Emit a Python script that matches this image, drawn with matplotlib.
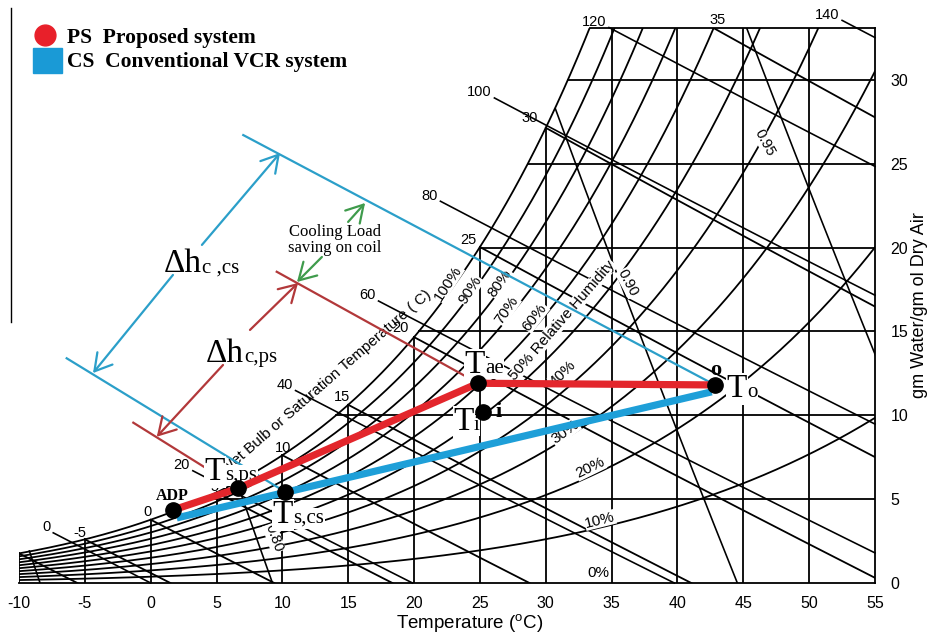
import numpy as np
import matplotlib
matplotlib.use("Agg")
import matplotlib.pyplot as plt
from matplotlib.lines import Line2D
from matplotlib.patches import Rectangle

plt.rcParams['mathtext.fontset'] = 'custom'
plt.rcParams['mathtext.rm'] = 'Liberation Sans'

SANS = 'Liberation Sans'
SERIF = 'Liberation Serif'

# ---------------- data ----------------
x_ticks = [-10, -5, 0, 5, 10, 15, 20, 25, 30, 35, 40, 45, 50, 55]
y_ticks = [0, 5, 10, 15, 20, 25, 30]
w_top = 33.1                      # top of chart (g/kg)
rh_levels = [10, 20, 30, 40, 50, 60, 70, 80, 90, 100]
wet_bulb_temps = [-10, -5, 0, 5, 10, 15, 20, 25, 30, 35]
wet_bulb_labels = ['-5', '0', '5', '10', '15', '20', '25', '30', '35']
enthalpy_levels = [0, 20, 40, 60, 80, 100, 120, 140]
enthalpy_start_T = [-7.4, 3.2, 11.0, 17.3, 22.0, 26.1, 34.8, 52.5]
volume_levels = [0.75, 0.80, 0.90, 0.95]

# process state points (T in C, humidity ratio in g/kg)
point_T = {'ADP': 1.69, 'Ts,ps': 6.65, 'Ts,cs': 10.2, 'Tae': 24.87, 'Ti': 25.25, 'To': 42.85}
point_w = {'ADP': 4.35, 'Ts,ps': 5.65, 'Ts,cs': 5.44, 'Tae': 11.91, 'Ti': 10.21, 'To': 11.81}

ps_path_T = [1.69, 6.65, 24.87, 42.85]
ps_path_w = [4.35, 5.65, 11.91, 11.81]
cs_path_T = [1.98, 10.2, 42.6]
cs_path_w = [3.88, 5.40, 11.40]

# enthalpy guide lines of the annotation
cs_upper_T = [7.03, 42.85]; cs_upper_w = [26.71, 11.81]
cs_lower_T = [-6.38, 10.2]; cs_lower_w = [13.40, 5.44]
ps_upper_T = [9.57, 24.87]; ps_upper_w = [18.56, 11.91]
ps_lower_T = [-1.32, 6.65]; ps_lower_w = [9.56, 5.65]

P_ATM = 101325.0

def pws(T):
    return 610.94 * np.exp(17.625 * T / (T + 243.04))

def w_sat(T, phi=1.0):
    p = phi * pws(T)
    return 622.0 * p / (P_ATM - p)

def w_wetbulb(T, Twb):
    ws = w_sat(Twb) / 1000.0
    return 1000.0 * ((2501 - 2.326 * Twb) * ws - 1.006 * (T - Twb)) / (2501 + 1.86 * T - 4.186 * Twb)

def w_enthalpy(T, h):
    return 1000.0 * (h - 1.006 * T) / (2501 + 1.86 * T)

def T_volume(w, v):
    return v * P_ATM / 1000.0 / (0.287042 * (1 + 1.607858 * w / 1000.0)) - 273.15

_Tg = np.linspace(-12, 60, 4000)
def T_dew(w):
    return np.interp(w, w_sat(_Tg), _Tg)

# ---------------- figure ----------------
W, H = 930, 637
fig = plt.figure(figsize=(W / 100, H / 100), dpi=100)
ax = fig.add_axes([19 / W, 54 / H, 856 / W, 33.1 * 16.77 / H])
ax.set_xlim(-10, 55)
ax.set_ylim(0, w_top)
for s in ax.spines.values():
    s.set_visible(False)

K = 'black'
LW = 1.3

# RH curves
Tc = np.linspace(-10, 55, 600)
for rh in rh_levels:
    ax.plot(Tc, w_sat(Tc, rh / 100.0), color=K, lw=LW, zorder=1)

# vertical grid / boundary
for T in x_ticks[:-1]:
    ax.plot([T, T], [0, min(w_sat(T), w_top)], color=K, lw=LW, zorder=1)
ax.plot([55, 55], [0, w_top], color=K, lw=LW, zorder=1, clip_on=False)
# horizontal grid / boundary
ax.plot([-10, 55], [0, 0], color=K, lw=LW, zorder=1, clip_on=False)
for w in y_ticks[1:]:
    ax.plot([T_dew(w), 55], [w, w], color=K, lw=LW, zorder=1)
ax.plot([T_dew(w_top), 55], [w_top, w_top], color=K, lw=LW, zorder=1, clip_on=False)

# wet bulb lines
for Twb in wet_bulb_temps:
    ws = w_sat(Twb) / 1000.0
    T_end = min(55.0, Twb + (2501 - 2.326 * Twb) * ws / 1.006)
    Tl = np.linspace(Twb, T_end, 200)
    ax.plot(Tl, w_wetbulb(Tl, Twb), color=K, lw=LW, zorder=1)

# enthalpy lines (extend outside the saturation curve to their labels)
for h, Ts in zip(enthalpy_levels, enthalpy_start_T):
    T_end = min(55.0, h / 1.006)
    Tl = np.linspace(Ts, T_end, 200)
    ax.plot(Tl, w_enthalpy(Tl, h), color=K, lw=LW * 0.9, zorder=1, clip_on=False)
    ax.annotate(str(h), (Ts, w_enthalpy(Ts, h)), xytext=(-2, 4), textcoords='offset points',
                ha='right', va='center', fontsize=10.5, family=SANS, annotation_clip=False)

# specific volume lines
wv = np.linspace(0, w_top, 400)
for v in volume_levels:
    Tv = T_volume(wv, v)
    m = wv <= w_sat(Tv) + 0.05
    ax.plot(Tv[m], wv[m], color=K, lw=LW * 0.9, zorder=1)

# wet bulb labels
wb_label_pos = [(-5.37, 2.98), (-0.28, 4.23), (4.88, 5.72), (10.05, 8.05), (14.53, 11.09),
                (18.93, 15.21), (24.09, 20.45), (28.8, 27.73), (43.08, 33.57)]
for lab, (tx, ty) in zip(wet_bulb_labels, wb_label_pos):
    ax.text(tx, ty, lab, ha='center', va='center', fontsize=10.5, family=SANS, zorder=2, clip_on=False)

# RH labels
bb = dict(facecolor='white', edgecolor='none', pad=0.3)
rh_label_specs = [('100%', 22.58, 17.89, 57), ('90%', 24.25, 17.47, 57), ('80%', 26.52, 17.89, 55),
                  ('70%', 27.05, 16.28, 55), ('60%', 29.18, 15.86, 52),
                  ('50% Relative Humidity', 31.23, 15.68, 49), ('40%', 31.31, 12.52, 44),
                  ('30%', 31.46, 9.00, 36), ('20%', 33.36, 6.86, 26), ('10%', 34.12, 3.76, 14),
                  ('0%', 33.97, 0.60, 0)]
for lab, tx, ty, rot in rh_label_specs:
    ax.text(tx, ty, lab, ha='center', va='center', rotation=rot, rotation_mode='anchor',
            fontsize=11, family=SANS, bbox=bb, zorder=2)

# volume labels
for lab, tx, ty, rot in [('0.90', 36.25, 17.89, -62), ('0.95', 46.65, 26.24, -62), ('0.80', 9.36, 2.68, -70)]:
    ax.text(tx, ty, lab, ha='center', va='center', rotation=rot, rotation_mode='anchor',
            fontsize=10.5, family=SANS, bbox=bb, zorder=2)

ax.text(13.31, 11.99, 'Wet Bulb or Saturation Temperature ( C)', rotation=41, rotation_mode='anchor',
        ha='center', va='center', fontsize=11, family=SANS, zorder=2)

# ---------------- annotation ----------------
RED = '#e3262c'
BLUE = '#1e9fd8'
TBLUE = '#2b9fc9'
TRED = '#b2383a'
GREEN = '#3f9b4c'

ax.plot(cs_upper_T, cs_upper_w, color=TBLUE, lw=1.6, zorder=3, clip_on=False)
ax.plot(cs_lower_T, cs_lower_w, color=TBLUE, lw=1.6, zorder=3, clip_on=False)
ax.plot(ps_upper_T, ps_upper_w, color=TRED, lw=1.6, zorder=3, clip_on=False)
ax.plot(ps_lower_T, ps_lower_w, color=TRED, lw=1.6, zorder=3, clip_on=False)

def arrow(start, tip, color):
    ax.annotate('', xy=tip, xytext=start, annotation_clip=False, zorder=3,
                arrowprops=dict(arrowstyle='->,head_length=0.6,head_width=0.35', color=color,
                                lw=1.6, shrinkA=0, shrinkB=0, mutation_scale=20))

arrow((1.69, 18.37), (-4.38, 12.52), TBLUE)
arrow((3.89, 20.16), (9.82, 25.64), TBLUE)
arrow((5.49, 13.0), (0.46, 8.72), TRED)
arrow((7.54, 15.09), (11.19, 17.89), TRED)
arrow((14.99, 21.53), (16.28, 22.66), GREEN)
arrow((13.0, 19.44), (11.11, 17.95), GREEN)

ax.text(14.0, 20.45, 'Cooling Load\nsaving on coil', ha='center', va='center', fontsize=12,
        family=SERIF, linespacing=0.95, zorder=6)

# process lines
ax.plot(ps_path_T, ps_path_w, color=RED, lw=5.2, solid_capstyle='butt', zorder=4, clip_on=False)
ax.plot(cs_path_T, cs_path_w, color=BLUE, lw=5.2, solid_capstyle='butt', zorder=4, clip_on=False)
ax.plot(list(point_T.values()), list(point_w.values()), 'o', color='black', ms=11, zorder=5,
        clip_on=False)

def label2(x, y, main, sub, ms=24, ss=15, box=False, z=3.5):
    kw = dict(family=SERIF, va='baseline', zorder=z)
    if box:
        kw['bbox'] = dict(facecolor='white', edgecolor='none', pad=0.5)
    ax.text(x, y, main, ha='right', fontsize=ms, **kw)
    ax.text(x, y, sub, ha='left', fontsize=ss, **kw)

label2(5.64, 6.14, 'T', 's,ps', box=True)
label2(10.81, 3.58, 'T', 's,cs', box=True)
label2(25.39, 12.52, 'T', 'ae', box=True)
label2(24.55, 9.12, 'T', 'i', box=True)
label2(45.28, 11.09, 'T', 'o', box=True)
label2(3.90, 18.54, '\u0394h', 'c ,cs', z=6)
label2(7.09, 13.18, '\u0394h', 'c,ps', z=6)
ax.text(26.15, 9.9, 'i', ha='left', va='baseline', fontsize=16, fontweight='bold', family=SERIF, zorder=6)
ax.text(42.92, 12.40, 'o', ha='center', va='baseline', fontsize=16, fontweight='bold', family=SERIF, zorder=6)
ax.text(1.63, 4.95, 'ADP', ha='center', va='baseline', fontsize=11.5, fontweight='bold', family=SERIF, zorder=6)

# ---------------- axes text ----------------
ax.set_xticks(x_ticks)
ax.set_xticklabels([str(t) for t in x_ticks], fontsize=11.5, family=SANS)
ax.tick_params(axis='x', length=0, pad=9)
ax.yaxis.tick_right()
ax.set_yticks(y_ticks)
ax.set_yticklabels([str(t) for t in y_ticks], fontsize=11.5, family=SANS)
ax.tick_params(axis='y', length=0, pad=11)
fig.text(470 / W, 1 - 624 / H, r'Temperature ($^{\mathrm{o}}$C)', fontsize=13.5, family=SANS,
         ha='center', va='center')
fig.text(919 / W, 1 - 305 / H, 'gm Water/gm ol Dry Air', fontsize=13, family=SANS, rotation=90,
         ha='center', va='center')

# ---------------- legend ----------------
fig.add_artist(Line2D([45 / W], [1 - 35 / H], marker='o', ms=15, color='#e8202a',
                      transform=fig.transFigure))
fig.add_artist(Rectangle((33 / W, 1 - 73 / H), 29 / W, 25 / H, color='#1a9ad6',
                         transform=fig.transFigure))
fig.text(67 / W, 1 - 43 / H, 'PS  Proposed system', fontsize=15.5, fontweight='bold', family=SERIF,
         va='baseline')
fig.text(67 / W, 1 - 67 / H, 'CS  Conventional VCR system', fontsize=15.5, fontweight='bold',
         family=SERIF, va='baseline')
fig.add_artist(Line2D([10.5 / W, 10.5 / W], [1 - 8 / H, 1 - 322 / H], color='black', lw=1,
                      transform=fig.transFigure))

fig.savefig('out.png', dpi=100)
